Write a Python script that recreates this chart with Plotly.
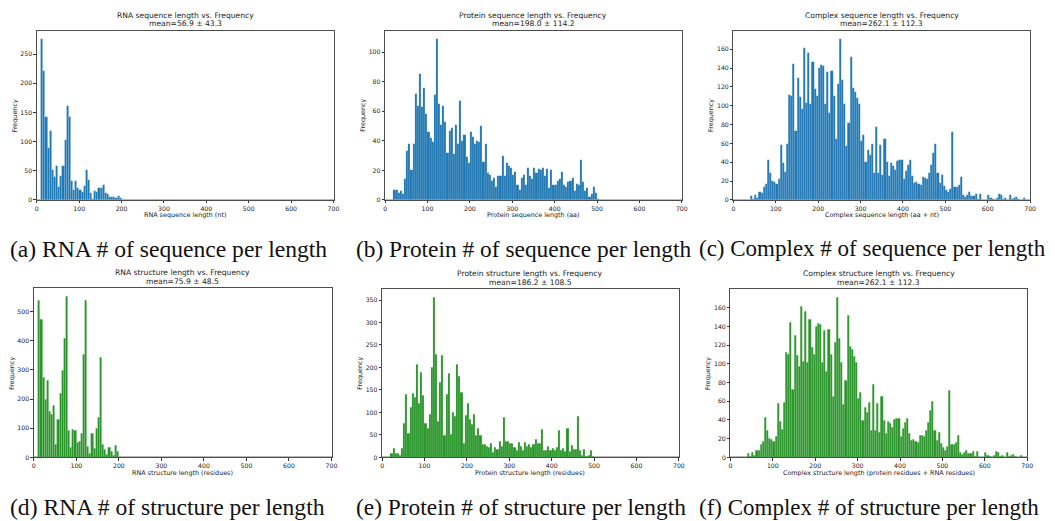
import plotly.graph_objects as go

# ---------------- data (histogram counts, bin width 5) ----------------
BIN_WIDTH = 5
X_MAX = 700

rna_seq_start = 10
rna_seq_counts = [276, 222, 143, 89, 119, 52, 39, 58, 22, 42, 59, 103, 162, 143, 32, 18,
                  32, 20, 18, 13, 24, 52, 34, 12, 2, 16, 13, 20, 20, 26, 12, 10, 5, 6, 6,
                  3, 7, 4]

protein_seq_start = 20
protein_seq_counts = [7, 7, 5, 6, 4, 14, 33, 38, 20, 38, 72, 64, 85, 63, 76, 58, 46, 42, 39,
                      71, 109, 65, 51, 64, 53, 32, 47, 49, 31, 51, 38, 67, 40, 44, 29, 25,
                      46, 43, 38, 40, 39, 50, 26, 38, 18, 17, 13, 15, 9, 16, 16, 30, 16, 25,
                      23, 22, 17, 19, 10, 7, 15, 17, 10, 22, 16, 14, 22, 18, 21, 20, 22, 16,
                      21, 8, 20, 10, 10, 13, 14, 19, 10, 9, 12, 13, 15, 6, 11, 10, 27, 12, 6,
                      8, 2, 4, 9, 5, 1]

complex_seq_start = 40
complex_seq_counts = [4, 1, 5, 2, 8, 7, 14, 17, 43, 29, 20, 19, 17, 22, 58, 39, 30, 59, 112,
                      110, 144, 73, 130, 109, 97, 161, 103, 156, 102, 147, 118, 110, 140, 143,
                      142, 102, 136, 92, 137, 110, 65, 123, 171, 127, 102, 57, 82, 152, 119,
                      115, 108, 102, 63, 69, 40, 53, 48, 59, 29, 78, 29, 58, 27, 65, 40, 26,
                      39, 36, 32, 41, 42, 42, 22, 31, 37, 42, 26, 18, 19, 17, 16, 24, 23, 22,
                      29, 37, 50, 60, 29, 18, 27, 15, 11, 8, 12, 72, 14, 14, 16, 24, 5, 3, 5,
                      8, 4, 4, 6, 1, 6, 0, 0, 0, 5, 2, 1, 0, 2, 6, 5, 1, 2, 0, 5, 1, 2, 3, 1,
                      0, 0, 2]

rna_struct_start = 10
rna_struct_counts = [540, 473, 276, 200, 265, 158, 148, 177, 46, 130, 220, 299, 408, 552, 91,
                     34, 95, 91, 50, 55, 84, 354, 539, 38, 14, 82, 30, 99, 137, 342, 46, 27,
                     11, 34, 20, 8, 41, 20]

protein_struct_start = 20
protein_struct_counts = [10, 19, 8, 8, 5, 19, 75, 141, 53, 112, 143, 134, 207, 121, 190, 138,
                         75, 65, 96, 201, 356, 229, 80, 168, 226, 50, 140, 187, 51, 100, 92,
                         207, 180, 145, 32, 94, 120, 85, 73, 96, 49, 64, 50, 30, 29, 25, 22,
                         31, 11, 22, 18, 35, 24, 89, 35, 35, 32, 32, 22, 15, 33, 25, 15, 33,
                         25, 28, 22, 29, 40, 32, 32, 63, 16, 15, 25, 15, 20, 15, 22, 60, 15,
                         21, 14, 64, 14, 26, 17, 17, 91, 15, 4, 17, 3, 4, 16, 3, 1]

complex_struct_start = 40
complex_struct_counts = [4, 1, 5, 2, 8, 7, 14, 17, 43, 29, 20, 19, 17, 22, 58, 39, 30, 59, 112,
                         110, 144, 73, 130, 109, 97, 161, 103, 156, 102, 147, 118, 110, 140,
                         143, 142, 102, 136, 92, 137, 110, 65, 123, 171, 127, 102, 57, 82, 152,
                         119, 115, 108, 102, 63, 69, 40, 53, 48, 59, 29, 78, 29, 58, 27, 65,
                         40, 26, 39, 36, 32, 41, 42, 42, 22, 31, 37, 42, 26, 18, 19, 17, 16,
                         24, 23, 22, 29, 37, 50, 60, 29, 18, 27, 15, 11, 8, 12, 72, 14, 14, 16,
                         24, 5, 3, 5, 8, 4, 4, 6, 1, 6, 0, 0, 0, 5, 2, 1, 0, 2, 6, 5, 1, 2, 0,
                         5, 1, 2, 3, 1, 0, 0, 2]

titles = ["RNA sequence length vs. Frequency", "Protein sequence length vs. Frequency",
          "Complex sequence length vs. Frequency", "RNA structure length vs. Frequency",
          "Protein structure length vs. Frequency", "Complex structure length vs. Frequency"]
means = ["mean=56.9 ± 43.3", "mean=198.0 ± 114.2", "mean=262.1 ± 112.3",
         "mean=75.9 ± 48.5", "mean=186.2 ± 108.5", "mean=262.1 ± 112.3"]
xlabels = ["RNA sequence length (nt)", "Protein sequence length (aa)",
           "Complex sequence length (aa + nt)", "RNA structure length (residues)",
           "Protein structure length (residues)",
           "Complex structure length (protein residues + RNA residues)"]
ylabel = "Frequency"
captions = ["(a) RNA # of sequence per length", "(b) Protein # of sequence per length",
            "(c) Complex # of sequence per length", "(d) RNA # of structure per length",
            "(e) Protein # of structure per length", "(f) Complex # of structure per length"]
ytick_steps = [50, 20, 20, 100, 50, 20]
xtick_vals = [0, 100, 200, 300, 400, 500, 600, 700]

series = [(rna_seq_start, rna_seq_counts), (protein_seq_start, protein_seq_counts),
          (complex_seq_start, complex_seq_counts), (rna_struct_start, rna_struct_counts),
          (protein_struct_start, protein_struct_counts),
          (complex_struct_start, complex_struct_counts)]

# ---------------- layout geometry (screen pixels) ----------------
SCREEN_W, SCREEN_H = 1055, 521
PAGE_OFFSET = 8          # default body margin of the html page
W, H = SCREEN_W - PAGE_OFFSET, SCREEN_H - PAGE_OFFSET
BLUE = "#1f77b4"
GREEN = "#2a962a"
colors = [BLUE, BLUE, BLUE, GREEN, GREEN, GREEN]
# plot boxes: (left, right, top, bottom)
boxes = [(35, 334, 31, 201), (386, 685, 31, 201), (737, 1036, 31, 201),
         (32, 332, 290, 460), (383, 682, 291, 460), (734, 1033, 291, 460)]
# caption left edge / vertical middle / font size
caption_pos = [(6, 250, 23.6), (355, 250, 23.4), (700, 250, 23.0),
               (6, 510, 23.6), (355, 510, 23.4), (700, 510, 23.0)]


def px(x):
    return (x - PAGE_OFFSET) / W


def py(y):
    return 1 - (y - PAGE_OFFSET) / H


fig = go.Figure()
annotations = []
TXT = "#222222"
FONT = "DejaVu Sans"

for i, ((start, counts), color, box) in enumerate(zip(series, colors, boxes)):
    n = i + 1
    xa = "x" if n == 1 else f"x{n}"
    ya = "y" if n == 1 else f"y{n}"
    nbins = X_MAX // BIN_WIDTH
    full = [0] * nbins
    first = start // BIN_WIDTH
    for k, c in enumerate(counts):
        full[first + k] = c
    centers = [b * BIN_WIDTH + BIN_WIDTH / 2 for b in range(nbins)]
    fig.add_trace(go.Bar(x=centers, y=full, width=BIN_WIDTH, xaxis=xa, yaxis=ya,
                         marker=dict(color=color,
                                     line=dict(color="rgba(255,255,255,0.25)", width=0.4)),
                         showlegend=False))
    ymax = max(counts) * 1.05
    step = ytick_steps[i]
    yt = list(range(0, int(ymax) + 1, step))
    l, r, t, b = box
    axis_common = dict(showline=True, mirror=True, linecolor="#4d4d4d", linewidth=0.8,
                       ticks="outside", ticklen=2.5, tickwidth=0.6, tickcolor="#333",
                       showgrid=False, tickfont=dict(family=FONT, size=6.2, color=TXT))
    fig.update_layout(**{
        ("xaxis" if n == 1 else f"xaxis{n}"): dict(
            domain=[px(l), px(r)], anchor=ya, range=[0, X_MAX], tickvals=xtick_vals,
            zeroline=False, **axis_common),
        ("yaxis" if n == 1 else f"yaxis{n}"): dict(
            domain=[py(b), py(t)], anchor=xa, range=[0, ymax], tickvals=yt,
            zeroline=True, zerolinecolor="#b5b5b5", zerolinewidth=2, **axis_common),
    })
    cx = (l + r) / 2
    annotations.append(dict(x=px(cx), y=py(t - 15.5), xref="paper", yref="paper",
                            text=titles[i], showarrow=False, xanchor="center", yanchor="middle",
                            font=dict(family=FONT, size=7.6, color=TXT)))
    annotations.append(dict(x=px(cx), y=py(t - 7), xref="paper", yref="paper",
                            text=means[i], showarrow=False, xanchor="center", yanchor="middle",
                            font=dict(family=FONT, size=7.6, color=TXT)))
    annotations.append(dict(x=px(cx), y=py(b + 15.5), xref="paper", yref="paper",
                            text=xlabels[i], showarrow=False, xanchor="center", yanchor="middle",
                            font=dict(family=FONT, size=6.4, color=TXT)))
    annotations.append(dict(x=px(l - 22), y=py((t + b) / 2), xref="paper", yref="paper",
                            text=ylabel, showarrow=False, xanchor="center", yanchor="middle",
                            textangle=-90, font=dict(family=FONT, size=6.4, color=TXT)))
    cxp, cyp, csize = caption_pos[i]
    annotations.append(dict(x=px(cxp), y=py(cyp), xref="paper", yref="paper",
                            text=captions[i], showarrow=False, xanchor="left", yanchor="middle",
                            font=dict(family="Liberation Serif", size=csize, color="#111")))

fig.update_layout(width=W, height=H, margin=dict(l=0, r=0, t=0, b=0),
                  paper_bgcolor="white", plot_bgcolor="white", bargap=0,
                  annotations=annotations)

fig.write_html("out.html")
